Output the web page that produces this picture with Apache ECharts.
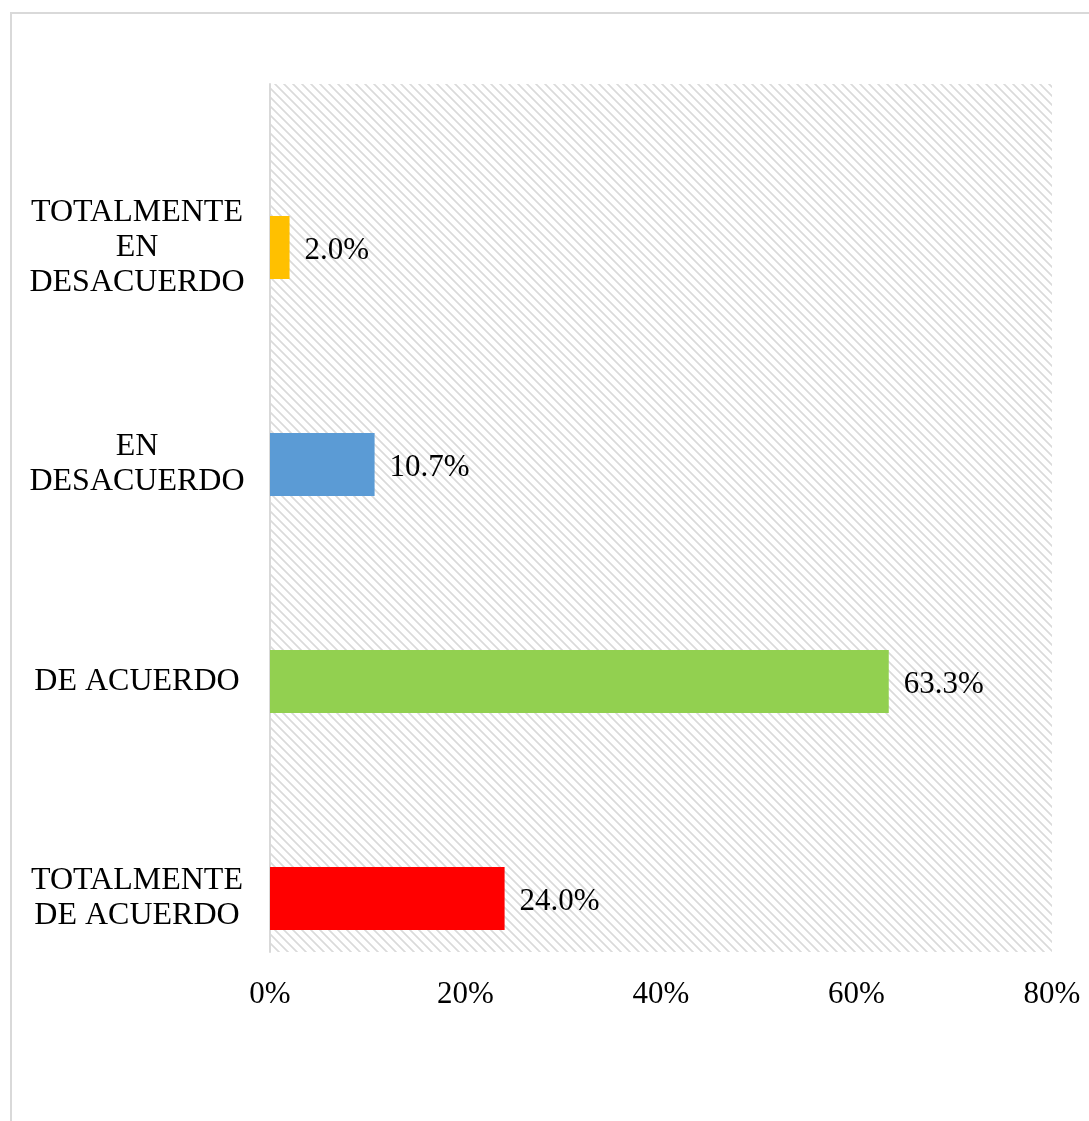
<!DOCTYPE html>
<html>
<head>
<meta charset="utf-8">
<script src="https://cdn.jsdelivr.net/npm/echarts@6/dist/echarts.min.js"></script>
<style>
html,body{margin:0;padding:0;background:#fff;}
#c{width:1089px;height:1121px;}
</style>
</head>
<body>
<div id="c"></div>
<script>
const categories = ['TOTALMENTE\nDE ACUERDO', 'DE ACUERDO', 'EN\nDESACUERDO', 'TOTALMENTE\nEN\nDESACUERDO'];
const values = [24.0, 63.3, 10.7, 2.0];
const barColors = ['#ff0000', '#92d050', '#5b9bd5', '#ffc000'];
const xTicks = [0, 20, 40, 60, 80];

// hatch tile (downward diagonal)
const tile = document.createElement('canvas');
const T = 9;
tile.width = T; tile.height = T;
const tctx = tile.getContext('2d');
const img = tctx.createImageData(T, T);
for (let y = 0; y < T; y++) {
  for (let x = 0; x < T; x++) {
    let d = ((x - y) % T + T) % T;
    let dist = Math.min(Math.abs(d - 2), T - Math.abs(d - 2));
    let a = Math.max(0, Math.min(1, 1.5 - dist * 0.8));
    let v = Math.round(255 - a * (255 - 218));
    const i = (y * T + x) * 4;
    img.data[i] = v; img.data[i+1] = v; img.data[i+2] = v; img.data[i+3] = 255;
  }
}
tctx.putImageData(img, 0, 0);

const font = 'Liberation Serif';
const chart = echarts.init(document.getElementById('c'), null, {renderer: 'canvas'});
chart.setOption({
  animation: false,
  backgroundColor: '#fff',
  graphic: [{
    type: 'rect', z: -10,
    shape: {x: 11, y: 13, width: 1200, height: 1200},
    style: {fill: 'none', stroke: '#d9d9d9', lineWidth: 2}
  }],
  grid: [
    {left: 270, right: 37, top: 139, bottom: 114, show: false, containLabel: false},
    {left: 270, right: 37, top: 84, bottom: 169, show: true, borderWidth: 0,
     backgroundColor: {image: tile, repeat: 'repeat'}, z: 0}
  ],
  xAxis: [
    {gridIndex: 0, type: 'value', min: 0, max: 80, interval: 20, show: false},
    {gridIndex: 1, type: 'value', min: 0, max: 80, interval: 20,
     axisLine: {show: false}, axisTick: {show: false}, splitLine: {show: false},
     axisLabel: {margin: 27, color: '#000', fontFamily: font, fontSize: 31,
       formatter: v => xTicks.includes(v) ? v + '%' : ''}}
  ],
  yAxis: [
    {gridIndex: 0, type: 'category', data: categories,
     axisLine: {show: false}, axisTick: {show: false}, splitLine: {show: false},
     axisLabel: {margin: 133, align: 'center', color: '#000', fontFamily: font,
       fontSize: 32, lineHeight: 35, padding: [6, 0, 0, 0]}},
    {gridIndex: 1, type: 'value', min: 0, max: 1,
     axisLine: {show: true, lineStyle: {color: '#d9d9d9', width: 2}},
     axisTick: {show: false}, axisLabel: {show: false}, splitLine: {show: false}}
  ],
  series: [{
    type: 'bar', xAxisIndex: 0, yAxisIndex: 0, z: 5,
    barWidth: 63,
    data: values.map((v, i) => ({value: v, itemStyle: {color: barColors[i]}})),
    label: {show: true, position: 'right', distance: 15, offset: [0, 3], color: '#000',
      fontFamily: font, fontSize: 31, formatter: p => p.value.toFixed(1) + '%'}
  }]
});
</script>
</body>
</html>
